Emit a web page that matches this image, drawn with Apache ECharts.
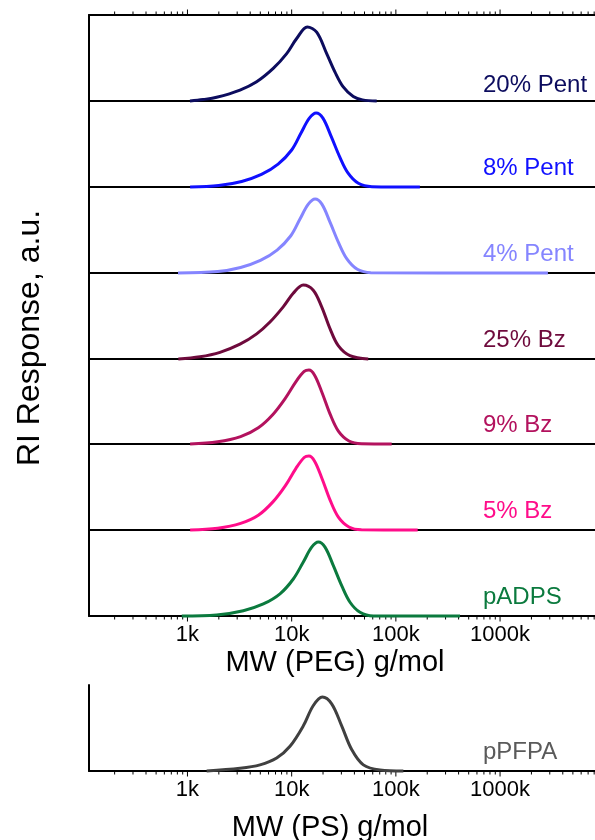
<!DOCTYPE html>
<html><head><meta charset="utf-8">
<script src="https://cdn.jsdelivr.net/npm/echarts@6/dist/echarts.min.js"></script>
<style>html,body{margin:0;padding:0;background:#fff}#c{width:595px;height:840px}</style>
</head><body><div id="c"></div>
<script>
const FONT = '"Liberation Sans", Arial, sans-serif';

// ---- Data (MW in g/mol, RI response normalised to peak = 1) ----
const mw20Pent = [1057, 1413, 1905, 3192, 4613, 6653, 8954, 11170, 14125, 17380, 21680, 26060, 31260, 39000, 47860, 65460];
const ri20Pent = [0, 0.02, 0.05, 0.148, 0.26, 0.44, 0.64, 0.844, 1.0, 0.93, 0.64, 0.39, 0.19, 0.06, 0.015, 0];

const mw8Pent = [1060, 1995, 3311, 5129, 7413, 10000, 12300, 14790, 17180, 19950, 23990, 28840, 34670, 43650, 58880, 170000];
const ri8Pent = [0, 0.02, 0.075, 0.17, 0.31, 0.5, 0.73, 0.93, 1.0, 0.93, 0.68, 0.41, 0.19, 0.05, 0.005, 0];

const mw4Pent = [811, 1950, 3236, 5012, 7244, 9772, 12020, 14450, 16790, 19500, 23440, 28180, 33880, 42660, 57540, 2880000];
const ri4Pent = [0, 0.02, 0.075, 0.17, 0.31, 0.5, 0.73, 0.93, 1.0, 0.93, 0.68, 0.41, 0.19, 0.05, 0.005, 0];

const mw25Bz = [817, 1318, 2051, 3192, 4613, 6194, 8299, 10350, 12910, 16110, 19410, 23330, 27990, 36220, 54330];
const ri25Bz = [0, 0.03, 0.09, 0.2, 0.34, 0.5, 0.705, 0.887, 1.0, 0.93, 0.705, 0.41, 0.18, 0.045, 0];

const mw9Bz = [1060, 1950, 3236, 4786, 6607, 8710, 10960, 13180, 14660, 16600, 19500, 23440, 28180, 35480, 46770, 91200];
const ri9Bz = [0, 0.03, 0.1, 0.22, 0.4, 0.62, 0.84, 0.98, 1.0, 0.93, 0.7, 0.4, 0.17, 0.04, 0.003, 0];

const mw5Bz = [1060, 1950, 3236, 4786, 6607, 8710, 10960, 13180, 14660, 16600, 19500, 23440, 28180, 35480, 46770, 162000];
const ri5Bz = [0, 0.025, 0.09, 0.2, 0.38, 0.6, 0.83, 0.98, 1.0, 0.93, 0.7, 0.4, 0.17, 0.04, 0.003, 0];

const mwADPS = [881, 1905, 3436, 5346, 7727, 10370, 12940, 15560, 18030, 20890, 25120, 30200, 36310, 45290, 60810, 413000];
const riADPS = [0, 0.014, 0.072, 0.163, 0.3, 0.5, 0.73, 0.93, 1.0, 0.93, 0.68, 0.41, 0.186, 0.05, 0, 0];

const mwPFPA = [1528, 3192, 4966, 7178, 9638, 12940, 16140, 19720, 24210, 30200, 37670, 48750, 70470, 118000];
const riPFPA = [0, 0.037, 0.083, 0.175, 0.334, 0.61, 0.885, 1.0, 0.908, 0.61, 0.29, 0.083, 0.014, 0];

const panelNames = ['20% Pent', '8% Pent', '4% Pent', '25% Bz', '9% Bz', '5% Bz', 'pADPS', 'pPFPA'];
const lineColors = ['#0c0c5e', '#1010ff', '#8585ff', '#6e0a3c', '#b3125e', '#ff0d8a', '#0b7a3e', '#404040'];
const labelColors = ['#0c0c5e', '#1010ff', '#8585ff', '#6e0a3c', '#b3125e', '#ff0d8a', '#0b7a3e', '#5a5a5a'];
const xTickMajor = [1000, 10000, 100000, 1000000];
const xTickMinor = [200, 300, 400, 500, 600, 700, 800, 900,
  2000, 3000, 4000, 5000, 6000, 7000, 8000, 9000,
  20000, 30000, 40000, 50000, 60000, 70000, 80000, 90000,
  200000, 300000, 400000, 500000, 600000, 700000, 800000, 900000,
  2000000, 3000000, 4000000, 5000000, 6000000, 7000000, 8000000];
const xTitlePEG = 'MW (PEG) g/mol';
const xTitlePS = 'MW (PS) g/mol';
const yTitle = 'RI Response, a.u.';

const mwSets = [mw20Pent, mw8Pent, mw4Pent, mw25Bz, mw9Bz, mw5Bz, mwADPS, mwPFPA];
const riSets = [ri20Pent, ri8Pent, ri4Pent, ri25Bz, ri9Bz, ri5Bz, riADPS, riPFPA];

// ---- Layout ----
const X_MIN = 113.5, X_MAX = 8.15e6, Y_MAX = 1.162;
const GL = 89, GW = 506, PH = 86;
const panelTops = [15, 101, 187, 273, 358, 444, 530, 685];
const labelY = [85, 168, 254, 340, 425, 511, 597, 752];
const labelX = 483;

const grids = [], xAxes = [], yAxes = [], series = [], graphics = [];
for (let i = 0; i < 8; i++) {
  grids.push({left: GL, top: panelTops[i], width: GW, height: PH});
  const showLab = (i === 6 || i === 7);
  xAxes.push({
    gridIndex: i, type: 'log', logBase: 10, min: X_MIN, max: X_MAX,
    axisLine: {show: true, onZero: false, lineStyle: {color: '#000', width: 2}},
    axisTick: {show: false}, splitLine: {show: false},
    axisLabel: {show: showLab, showMinLabel: false, showMaxLabel: false, margin: 8,
      color: '#000', fontSize: 22, fontFamily: FONT,
      formatter: v => Math.round(v / 1000) + 'k'}
  });
  yAxes.push({
    gridIndex: i, type: 'value', min: 0, max: Y_MAX,
    axisLine: {show: true, onZero: false, lineStyle: {color: '#000', width: 2}},
    axisTick: {show: false}, axisLabel: {show: false}, splitLine: {show: false}
  });
  series.push({
    type: 'line', xAxisIndex: i, yAxisIndex: i, smooth: 0.35, showSymbol: false,
    clip: false, z: 5, silent: true,
    lineStyle: {color: lineColors[i], width: 3},
    data: mwSets[i].map((m, j) => [m, riSets[i][j]])
  });
  graphics.push({
    type: 'text', x: labelX, y: labelY[i],
    style: {text: panelNames[i], fill: labelColors[i], font: '24px ' + FONT, verticalAlign: 'middle', align: 'left'}
  });
}
// top line of the first panel
xAxes.push({
  gridIndex: 0, type: 'log', logBase: 10, min: X_MIN, max: X_MAX, position: 'top',
  axisLine: {show: true, onZero: false, lineStyle: {color: '#000', width: 2}},
  axisTick: {show: false}, axisLabel: {show: false}, splitLine: {show: false}
});
const topAxisIdx = xAxes.length - 1;

function tickSeries(xIdx, yIdx, atTop) {
  const data = xTickMajor.map(v => [v, atTop ? Y_MAX : 0, 1])
    .concat(xTickMinor.map(v => [v, atTop ? Y_MAX : 0, 0]));
  return {
    type: 'custom', xAxisIndex: xIdx, yAxisIndex: yIdx, silent: true, z: 3,
    data: data,
    renderItem: function (params, api) {
      const p = api.coord([api.value(0), api.value(1)]);
      const len = api.value(2) ? 4.5 : 2.5;
      const d = atTop ? -1 : 1;
      return {type: 'line', shape: {x1: p[0], y1: p[1], x2: p[0], y2: p[1] + d * (len + 1)},
        style: {stroke: '#000', lineWidth: 1}};
    }
  };
}
series.push(tickSeries(topAxisIdx, 0, true));
series.push(tickSeries(6, 6, false));
series.push(tickSeries(7, 7, false));

graphics.push({type: 'text', x: 335, y: 663, style: {text: xTitlePEG, fill: '#000', font: '29px ' + FONT, align: 'center', verticalAlign: 'middle'}});
graphics.push({type: 'text', x: 330, y: 828, style: {text: xTitlePS, fill: '#000', font: '29px ' + FONT, align: 'center', verticalAlign: 'middle'}});
graphics.push({type: 'text', x: 30, y: 338, rotation: Math.PI / 2, style: {text: yTitle, fill: '#000', font: '32px ' + FONT, align: 'center', verticalAlign: 'middle'}});

const chart = echarts.init(document.getElementById('c'), null, {renderer: 'canvas'});
chart.setOption({
  animation: false, backgroundColor: '#fff',
  grid: grids, xAxis: xAxes, yAxis: yAxes, series: series, graphic: graphics
});
</script></body></html>
